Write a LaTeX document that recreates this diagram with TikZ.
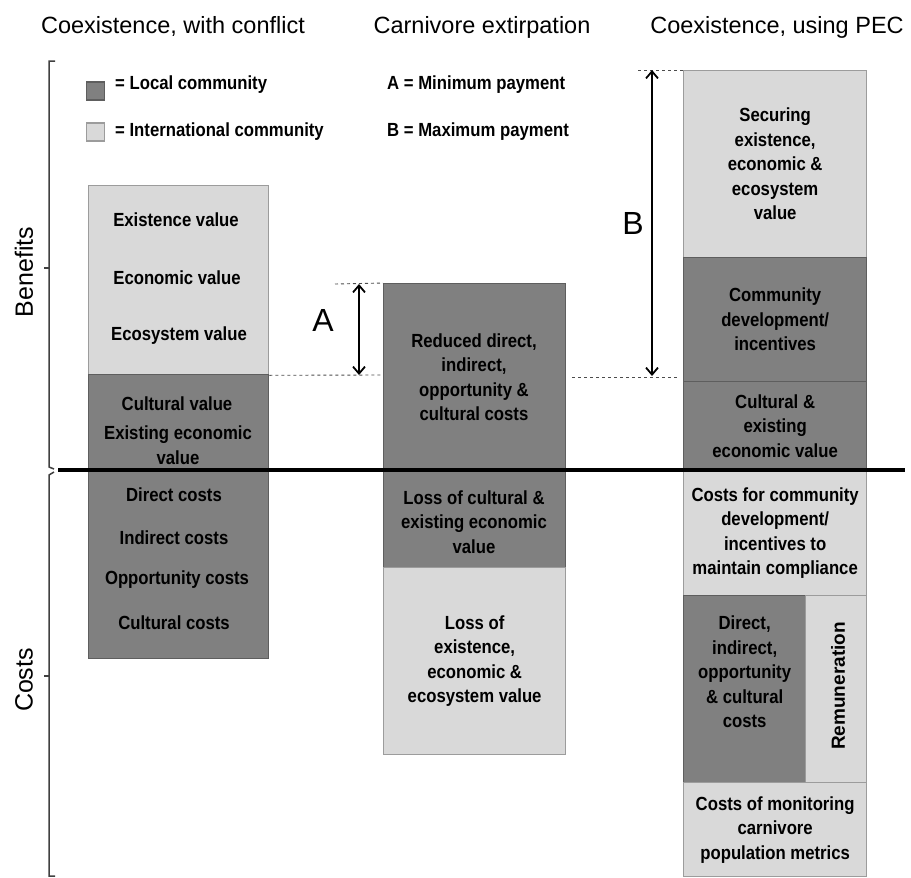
\documentclass[tikz,border=0pt]{standalone}
\usepackage{fontspec}
\setmainfont{Liberation Sans}
\newfontfamily\cellfont[FakeStretch=0.88]{Liberation Sans}
\usetikzlibrary{arrows.meta}

\definecolor{localgray}{HTML}{808080}
\definecolor{intlgray}{HTML}{D9D9D9}
\definecolor{localedge}{HTML}{5E5E5E}
\definecolor{intledge}{HTML}{9C9C9C}

\tikzset{
  cellfontstyle/.style={font=\cellfont\bfseries\fontsize{19}{24.5}\selectfont},
  cell/.style={cellfontstyle, line width=1.3pt, inner sep=0pt, anchor=north west, align=center},
  local/.style={cell, fill=localgray, draw=localedge},
  intl/.style={cell, fill=intlgray, draw=intledge},
  celltext/.style={cellfontstyle, align=center, inner sep=0pt},
  heading/.style={font=\fontsize{23.5}{28}\selectfont, anchor=base, inner sep=0pt},
  axislabel/.style={font=\fontsize{25}{30}\selectfont, rotate=90, inner sep=0pt},
  payment/.style={font=\fontsize{32}{36}\selectfont, inner sep=0pt},
  keytext/.style={cellfontstyle, anchor=base west, inner sep=0pt},
  keybox/.style={minimum size=18pt, inner sep=0pt, line width=1.2pt},
  guide/.style={dash pattern=on 3pt off 3pt, line width=0.9pt, draw=black!70},
  span/.style={line width=1.8pt,
    {Straight Barb[length=7pt,width=12pt]}-{Straight Barb[length=7pt,width=12pt]}},
  bracket/.style={line width=1.5pt, draw=black!75},
  divider/.style={line width=3.5pt, draw=black},
}

% \cellbox{name}{x1}{y1}{x2}{y2}{style}{text}
\newcommand\cellbox[7]{%
  \node[#6, minimum width={#4-#2}, minimum height={#5-#3}] (#1) at (#2,#3) {#7};}

\begin{document}
\begin{tikzpicture}[x=1pt,y=-1pt]
\useasboundingbox (0,0) rectangle (911,878);

% column headings
\node[heading] (headConflict) at (173,33) {Coexistence, with conflict};
\node[heading] (headExtirp) at (482,33) {Carnivore extirpation};
\node[heading] (headPEC) at (777,33) {Coexistence, using PEC};

% key
\node[keybox, fill=localgray, draw=localedge] (keyLocal) at (95.5,91) {};
\node[keybox, fill=intlgray, draw=intledge] (keyIntl) at (95.5,132) {};
\node[keytext] (keyLocalText) at (115,89) {= Local community};
\node[keytext] (keyIntlText) at (115,136) {= International community};
\node[keytext] (keyA) at (387,89) {A = Minimum payment};
\node[keytext] (keyB) at (387,136) {B = Maximum payment};

% axis brackets
\draw[bracket] (55,61) -- (49,61) -- (49,467) -- (54,469);
\draw[bracket] (54,472) -- (49,475) -- (49,876) -- (55,876);
\draw[bracket] (49,268) -- (44,268);
\draw[bracket] (49,676) -- (44,676);
\node[axislabel] (labBenefits) at (24,272) {Benefits};
\node[axislabel] (labCosts) at (24,680) {Costs};

% column 1: coexistence with conflict
\cellbox{leftTop}{88}{185}{268}{374}{intl}{}
\cellbox{leftBottom}{88}{374}{268}{658}{local}{}
\node[celltext] (tExist) at (176,220) {Existence value};
\node[celltext] (tEcon) at (177,278) {Economic value};
\node[celltext] (tEco) at (179,336) {Ecosystem value};
\node[celltext] (tCult) at (177,404) {Cultural value};
\node[celltext] (tExEcon) at (178,445) {Existing economic\\value};
\node[celltext] (tDirect) at (174,495) {Direct costs};
\node[celltext] (tIndirect) at (174,538) {Indirect costs};
\node[celltext] (tOpp) at (177,580) {Opportunity costs};
\node[celltext] (tCultC) at (174,623) {Cultural costs};

% column 2: carnivore extirpation
\cellbox{midTop}{383}{283}{565}{567}{local}{}
\cellbox{midBottom}{383}{567}{565}{754}{intl}{Loss of\\existence,\\economic \&\\ecosystem value}
\node[celltext] (tReduced) at (474,377) {Reduced direct,\\indirect,\\opportunity \&\\cultural costs};
\node[celltext] (tLossCult) at (474,522) {Loss of cultural \&\\existing economic\\value};

% column 3: coexistence using PEC
\cellbox{rSecure}{683}{70}{866}{257}{intl}{Securing\\existence,\\economic \&\\ecosystem\\value}
\cellbox{rCommunity}{683}{257}{866}{381}{local}{Community\\development/\\incentives}
\cellbox{rCultural}{683}{381}{866}{470}{local}{Cultural \&\\existing\\economic value}
\cellbox{rCostsComm}{683}{470}{866}{595}{intl}{Costs for community\\development/\\incentives to\\maintain compliance}
\cellbox{rDirect}{683}{595}{805}{782}{local}{Direct,\\indirect,\\opportunity\\\& cultural\\costs\\[10pt]}
\cellbox{rRemun}{805}{595}{866}{782}{intl}{}
\node[celltext, font=\bfseries\fontsize{19}{24.5}\selectfont, rotate=90] (tRemun) at (838,686) {Remuneration};
\cellbox{rMonitor}{683}{782}{866}{876}{intl}{Costs of monitoring\\carnivore\\population metrics}

% benefits / costs divider
\draw[divider] (58,470) -- (905,470);

% minimum payment A
\coordinate (aTopL) at (335,284);
\coordinate (aTop) at (359,284);
\coordinate (aBot) at (359,375);
\coordinate (aBotR) at (382,375);
\draw[guide] (aTopL) -- (midTop.north west);
\draw[guide] (leftTop.south east) -- (aBotR);
\draw[span] (aTop) -- (aBot);
\node[payment] (labA) at (323,320) {A};

% maximum payment B
\coordinate (bTopL) at (638,70);
\coordinate (bTop) at (652,70);
\coordinate (bBot) at (652,376);
\coordinate (bBotL) at (572,377);
\coordinate (bBotR) at (677,377);
\draw[guide] (bTopL) -- (rSecure.north west);
\draw[guide] (bBotL) -- (bBotR);
\draw[span] (bTop) -- (bBot);
\node[payment] (labB) at (633,223) {B};
\end{tikzpicture}
\end{document}
